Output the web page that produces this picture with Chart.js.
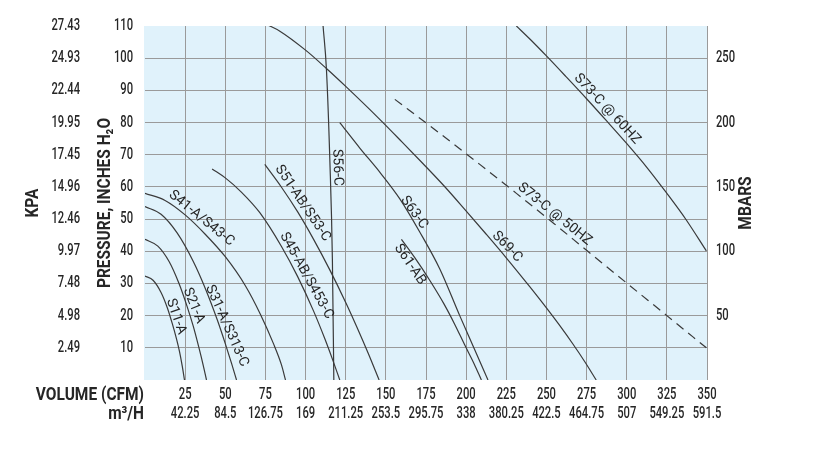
<!DOCTYPE html>
<html><head><meta charset="utf-8">
<script src="https://cdn.jsdelivr.net/npm/chart.js@4"></script>
<style>html,body{margin:0;padding:0;background:#fff}</style>
</head><body>
<canvas id="c" width="825" height="450"></canvas>
<script>
// ---- tick labels ----
const cfmValues = [25,50,75,100,125,150,175,200,225,250,275,300,325,350];
const cfmTicks  = ['25','50','75','100','125','150','175','200','225','250','275','300','325','350'];
const m3hTicks  = ['42.25','84.5','126.75','169','211.25','253.5','295.75','338','380.25','422.5','464.75','507','549.25','591.5'];
const inchValues = [10,20,30,40,50,60,70,80,90,100,110];
const inchTicks  = ['10','20','30','40','50','60','70','80','90','100','110'];
const kpaTicks   = ['2.49','4.98','7.48','9.97','12.46','14.96','17.45','19.95','22.44','24.93','27.43'];
const mbarValues = [50,100,150,200,250];
const mbarTicks  = ['50','100','150','200','250'];

// ---- curves: [CFM, inches H2O] ----
const s11A = [[0,32.3],[5,31.0],[10,27.2],[14,22.3],[17,17.5],[19.5,13],[21.5,8.8],[23.2,4.3],[24.6,0]];
const s21A = [[0,43.7],[8,41.6],[15,36.8],[21,30.2],[26,23.2],[30,16.8],[33.5,10.2],[36.3,4.5],[38.3,0]];
const s31A = [[0,53.9],[10,51.5],[20,45.7],[30,36.9],[38,27.9],[45,18.7],[50,11.3],[54,5.0],[57,0]];
const s41A = [[0,58],[12.5,55.8],[25,51.3],[37.5,45.3],[50,38.3],[62.5,29.3],[72,20.3],[80,11.3],[85,4.7],[87.5,0]];
const s45AB = [[41.8,65.6],[50,62.8],[60,58.4],[71.5,52],[85,41.5],[95,32.2],[105,21.4],[112,12.8],[117,6.1],[121.3,0]];
const s51AB = [[74.6,67],[85,59.9],[95,52.3],[105,43.7],[115,34.3],[125,24.1],[132,16.4],[139,8.3],[145.8,0]];
const s56C = [[110.9,110],[113,96.5],[115.1,68.6],[116.7,37.5],[117.6,0]];
const s61AB = [[159.7,43.7],[168,38],[177.3,31],[186,23.8],[193,17.2],[199,11],[205,5],[209.5,0]];
const s63C = [[121.3,80],[133.9,72],[146.2,64.6],[158.7,56.3],[171.1,46],[183.6,34.5],[196,20],[205,9.8],[213.6,0]];
const s69C = [[75.7,110.5],[84,108.4],[100,102.5],[113,96.8],[125.5,91],[146.2,81],[160,74],[173.2,67.2],[187,59.9],[200.2,52.4],[212,45.6],[225.1,37.9],[239.6,29],[250,22.4],[258,17.1],[266.6,11.1],[274,5.6],[281,0]];
const s73C60 = [[231.3,110],[240,105.8],[250,100.7],[262.5,94.1],[275,87.4],[287.5,80.5],[299.8,73.6],[312.5,66.1],[324.7,58.2],[337,49.8],[349.6,40.1]];
const s73C50 = [[155.6,87.2],[180,78],[208.5,67],[231.3,58],[255,48.5],[275,40.3],[299.8,30.2],[325,20],[349.6,10]];

// ---- curve labels: text, anchor CFM, anchor inches, angle (deg) ----
const curveLabels = [
  ['S11-A', 19.3, 19.7, 71],
  ['S21-A', 30.3, 23.1, 68],
  ['S31-A/S313-C', 51.0, 16.8, 66],
  ['S41-A/S43-C', 35.2, 50.2, 39],
  ['S45-AB/S453-C', 100.6, 32.4, 61],
  ['S51-AB/S53-C', 98.2, 54.9, 56],
  ['S56-C', 119.8, 66, 88],
  ['S63-C', 167.6, 52, 54],
  ['S61-AB', 165.0, 35.9, 56],
  ['S69-C', 225.5, 41.4, 46],
  ['S73-C @ 60HZ', 287.8, 84.2, 47],
  ['S73-C @ 50HZ', 255.2, 51.5, 39]
];

const TICK_FONT = "500 16px Roboto, 'DejaVu Sans', sans-serif";
const TICK_SX = 0.7;
const LABEL_FONT = "14px Roboto, 'DejaVu Sans', sans-serif";
const TITLE_FONT = "bold 18px Roboto, 'DejaVu Sans', sans-serif";
const TITLE_SX = 0.86;
const TEXT = '#262626';
const GRID = '#9a9a9a';
const BG = '#e0f2fb';
const LINE = '#3a3a3a';

const series = [s11A, s21A, s31A, s41A, s45AB, s51AB, s56C, s61AB, s63C, s69C, s73C60, s73C50];
const datasets = series.map(pts => ({
  data: pts.map(p => ({x: p[0], y: p[1]})),
  showLine: true, pointRadius: 0, borderColor: LINE, borderWidth: 1.2,
  cubicInterpolationMode: 'monotone', fill: false,
  borderDash: pts === s73C50 ? [9, 6] : [],
  xAxisID: 'x', yAxisID: 'y'
}));

function drawText(ctx, str, x, y, font, align, sx, rot) {
  ctx.save();
  ctx.translate(x, y);
  if (rot) ctx.rotate(rot);
  ctx.scale(sx, 1);
  ctx.font = font;
  ctx.textAlign = align;
  ctx.textBaseline = 'middle';
  ctx.fillText(str, 0, 0);
  ctx.restore();
}

const bgPlugin = {
  id: 'bg',
  beforeDraw(chart) {
    const {ctx, chartArea: a} = chart;
    ctx.save();
    ctx.fillStyle = BG;
    ctx.fillRect(a.left - 1, a.top, a.right - a.left + 1, a.bottom - a.top);
    ctx.restore();
  }
};

const textPlugin = {
  id: 'texts',
  afterDraw(chart) {
    const {ctx, chartArea: a} = chart;
    const xs = chart.scales.x, ys = chart.scales.y, yk = chart.scales.yKpa, ym = chart.scales.yMbar;
    ctx.save();
    ctx.fillStyle = TEXT;
    // tick labels, positioned by the chart's scales
    cfmValues.forEach((v, i) => {
      const px = xs.getPixelForValue(v);
      drawText(ctx, cfmTicks[i], px, 395, TICK_FONT, 'center', TICK_SX, 0);
      drawText(ctx, m3hTicks[i], px, 414, TICK_FONT, 'center', TICK_SX, 0);
    });
    inchValues.forEach((v, i) => {
      drawText(ctx, inchTicks[i], a.left - 12, ys.getPixelForValue(v), TICK_FONT, 'right', TICK_SX, 0);
      drawText(ctx, kpaTicks[i], yk.right - 10, yk.getPixelForValue(v), TICK_FONT, 'right', TICK_SX, 0);
    });
    mbarValues.forEach((v, i) => {
      drawText(ctx, mbarTicks[i], a.right + 9, ym.getPixelForValue(v), TICK_FONT, 'left', TICK_SX, 0);
    });
    // curve labels
    curveLabels.forEach(([t, cx, cy, ang]) => {
      drawText(ctx, t, xs.getPixelForValue(cx), ys.getPixelForValue(cy), LABEL_FONT, 'center', 1, ang * Math.PI / 180);
    });
    // axis titles
    drawText(ctx, 'VOLUME (CFM)', a.left - 1, 395, TITLE_FONT, 'right', TITLE_SX, 0);
    drawText(ctx, 'm³/H', a.left - 1, 414, TITLE_FONT, 'right', TITLE_SX, 0);
    const midY = (a.top + a.bottom) / 2;
    drawText(ctx, 'PRESSURE, INCHES H₂O', 105, midY, TITLE_FONT, 'center', TITLE_SX, -Math.PI / 2);
    drawText(ctx, 'KPA', 33, midY, TITLE_FONT, 'center', TITLE_SX, -Math.PI / 2);
    drawText(ctx, 'MBARS', 746, midY, TITLE_FONT, 'center', TITLE_SX, -Math.PI / 2);
    ctx.restore();
  }
};

new Chart(document.getElementById('c'), {
  type: 'scatter',
  data: {datasets},
  plugins: [bgPlugin, textPlugin],
  options: {
    responsive: false, animation: false, devicePixelRatio: 1,
    layout: {padding: {top: 26, left: 0, right: 0, bottom: 0}},
    plugins: {legend: {display: false}, tooltip: {enabled: false}},
    scales: {
      x: {
        type: 'linear', position: 'bottom', min: 0, max: 350, weight: 0,
        border: {display: false},
        grid: {drawTicks: false, lineWidth: 1, color: c => (c.tick && c.tick.value > 0) ? GRID : 'rgba(0,0,0,0)'},
        ticks: {stepSize: 25, autoSkip: false, maxRotation: 0, display: false},
        afterFit: s => { s.height = 70; }
      },
      y: {
        type: 'linear', position: 'left', min: 0, max: 110, weight: 0,
        border: {display: false},
        grid: {drawTicks: false, lineWidth: 1, color: c => (c.tick && c.tick.value > 0 && c.tick.value < 110) ? GRID : 'rgba(0,0,0,0)'},
        ticks: {stepSize: 10, display: false},
        afterFit: s => { s.width = 55; }
      },
      yKpa: {
        type: 'linear', position: 'left', min: 0, max: 110, weight: 1,
        border: {display: false},
        grid: {display: false, drawTicks: false},
        ticks: {stepSize: 10, display: false},
        afterFit: s => { s.width = 90; }
      },
      yMbar: {
        type: 'linear', position: 'right', min: 0, max: 275, weight: 0,
        border: {display: false},
        grid: {display: false, drawTicks: false},
        ticks: {stepSize: 50, display: false},
        afterFit: s => { s.width = 118; }
      }
    }
  }
});
</script>
</body></html>
